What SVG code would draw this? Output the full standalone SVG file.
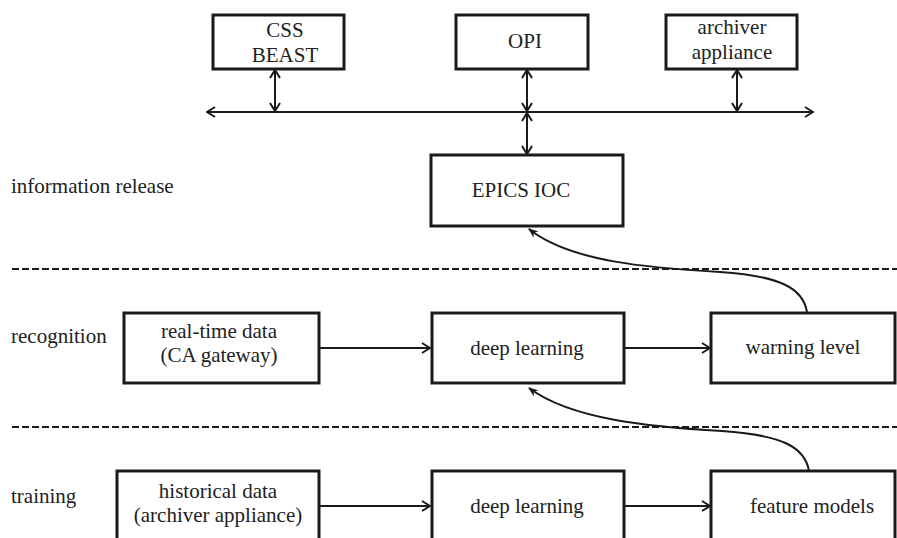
<svg xmlns="http://www.w3.org/2000/svg" width="897" height="538" viewBox="0 0 897 538" font-family="Liberation Serif, DejaVu Serif, serif">
<style>
.box{fill:#fff;stroke:#1a1a1a;stroke-width:3}
text{font-family:'Liberation Serif','DejaVu Serif',serif;font-size:21px;fill:#222}
.t{text-anchor:middle}
.ln{fill:none;stroke:#1a1a1a;stroke-width:2}
.dash{fill:none;stroke:#1a1a1a;stroke-width:2;stroke-dasharray:7 3}
</style>
<defs>
<marker id="open" viewBox="0 0 10 12" refX="9" refY="6" markerWidth="10" markerHeight="12" markerUnits="userSpaceOnUse" orient="auto-start-reverse">
<path d="M1,1 L9,6 L1,11" fill="none" stroke="#1a1a1a" stroke-width="2"/>
</marker>
<marker id="solid" viewBox="0 0 10 10" refX="9" refY="5" markerWidth="10" markerHeight="10" markerUnits="userSpaceOnUse" orient="auto">
<path d="M0,1 L10,5 L0,9 L3,5 Z" fill="#1a1a1a"/>
</marker>
</defs>
<rect width="897" height="538" fill="#fff"/>

<g id="lanes">
<line class="dash" x1="12" y1="269" x2="897" y2="269"/>
<line class="dash" x1="12" y1="427" x2="897" y2="427"/>
<text x="11" y="193">information release</text>
<text x="11" y="343">recognition</text>
<text x="11" y="503">training</text>
</g>

<g id="connectors">
<line class="ln" x1="207" y1="112" x2="813" y2="112" marker-start="url(#open)" marker-end="url(#open)"/>
<line class="ln" x1="275" y1="70" x2="275" y2="111" marker-start="url(#open)" marker-end="url(#open)"/>
<line class="ln" x1="527" y1="70" x2="527" y2="111" marker-start="url(#open)" marker-end="url(#open)"/>
<line class="ln" x1="737" y1="70" x2="737" y2="111" marker-start="url(#open)" marker-end="url(#open)"/>
<line class="ln" x1="527" y1="113" x2="527" y2="154" marker-start="url(#open)" marker-end="url(#open)"/>
<line class="ln" x1="319" y1="348" x2="430" y2="348" marker-end="url(#open)"/>
<line class="ln" x1="624" y1="348" x2="710" y2="348" marker-end="url(#open)"/>
<line class="ln" x1="319" y1="506" x2="430" y2="506" marker-end="url(#open)"/>
<line class="ln" x1="624" y1="506" x2="710" y2="506" marker-end="url(#open)"/>
<path class="ln" d="M807,312 C803,288 780,276 720,272 C650,268 570,262 529,229" marker-end="url(#solid)"/>
<path class="ln" d="M809,471 C805,447 782,435 722,431 C652,427 572,420 529,388" marker-end="url(#solid)"/>
</g>

<g id="css-beast">
<rect class="box" x="213" y="15" width="131" height="54"/>
<text class="t" x="285" y="37">CSS</text>
<text class="t" x="285" y="62">BEAST</text>
</g>
<g id="opi">
<rect class="box" x="456" y="15" width="132" height="54"/>
<text class="t" x="525" y="48">OPI</text>
</g>
<g id="archiver-top">
<rect class="box" x="666" y="15" width="131" height="54"/>
<text class="t" x="732" y="34">archiver</text>
<text class="t" x="732" y="59">appliance</text>
</g>
<g id="epics-ioc">
<rect class="box" x="431" y="155" width="192" height="71"/>
<text class="t" x="521" y="197">EPICS IOC</text>
</g>

<g id="realtime">
<rect class="box" x="124" y="313" width="195" height="70"/>
<text class="t" x="219" y="338">real-time data</text>
<text class="t" x="219" y="362">(CA gateway)</text>
</g>
<g id="deep-learning-1">
<rect class="box" x="432" y="313" width="192" height="70"/>
<text class="t" x="527" y="355">deep learning</text>
</g>
<g id="warning-level">
<rect class="box" x="711" y="313" width="184" height="70"/>
<text class="t" x="803" y="354">warning level</text>
</g>

<g id="historical">
<rect class="box" x="117" y="471" width="202" height="72"/>
<text class="t" x="218" y="498">historical data</text>
<text class="t" x="218" y="522">(archiver appliance)</text>
</g>
<g id="deep-learning-2">
<rect class="box" x="432" y="471" width="192" height="72"/>
<text class="t" x="527" y="513">deep learning</text>
</g>
<g id="feature-models">
<rect class="box" x="711" y="471" width="184" height="72"/>
<text class="t" x="812" y="513">feature models</text>
</g>
</svg>
